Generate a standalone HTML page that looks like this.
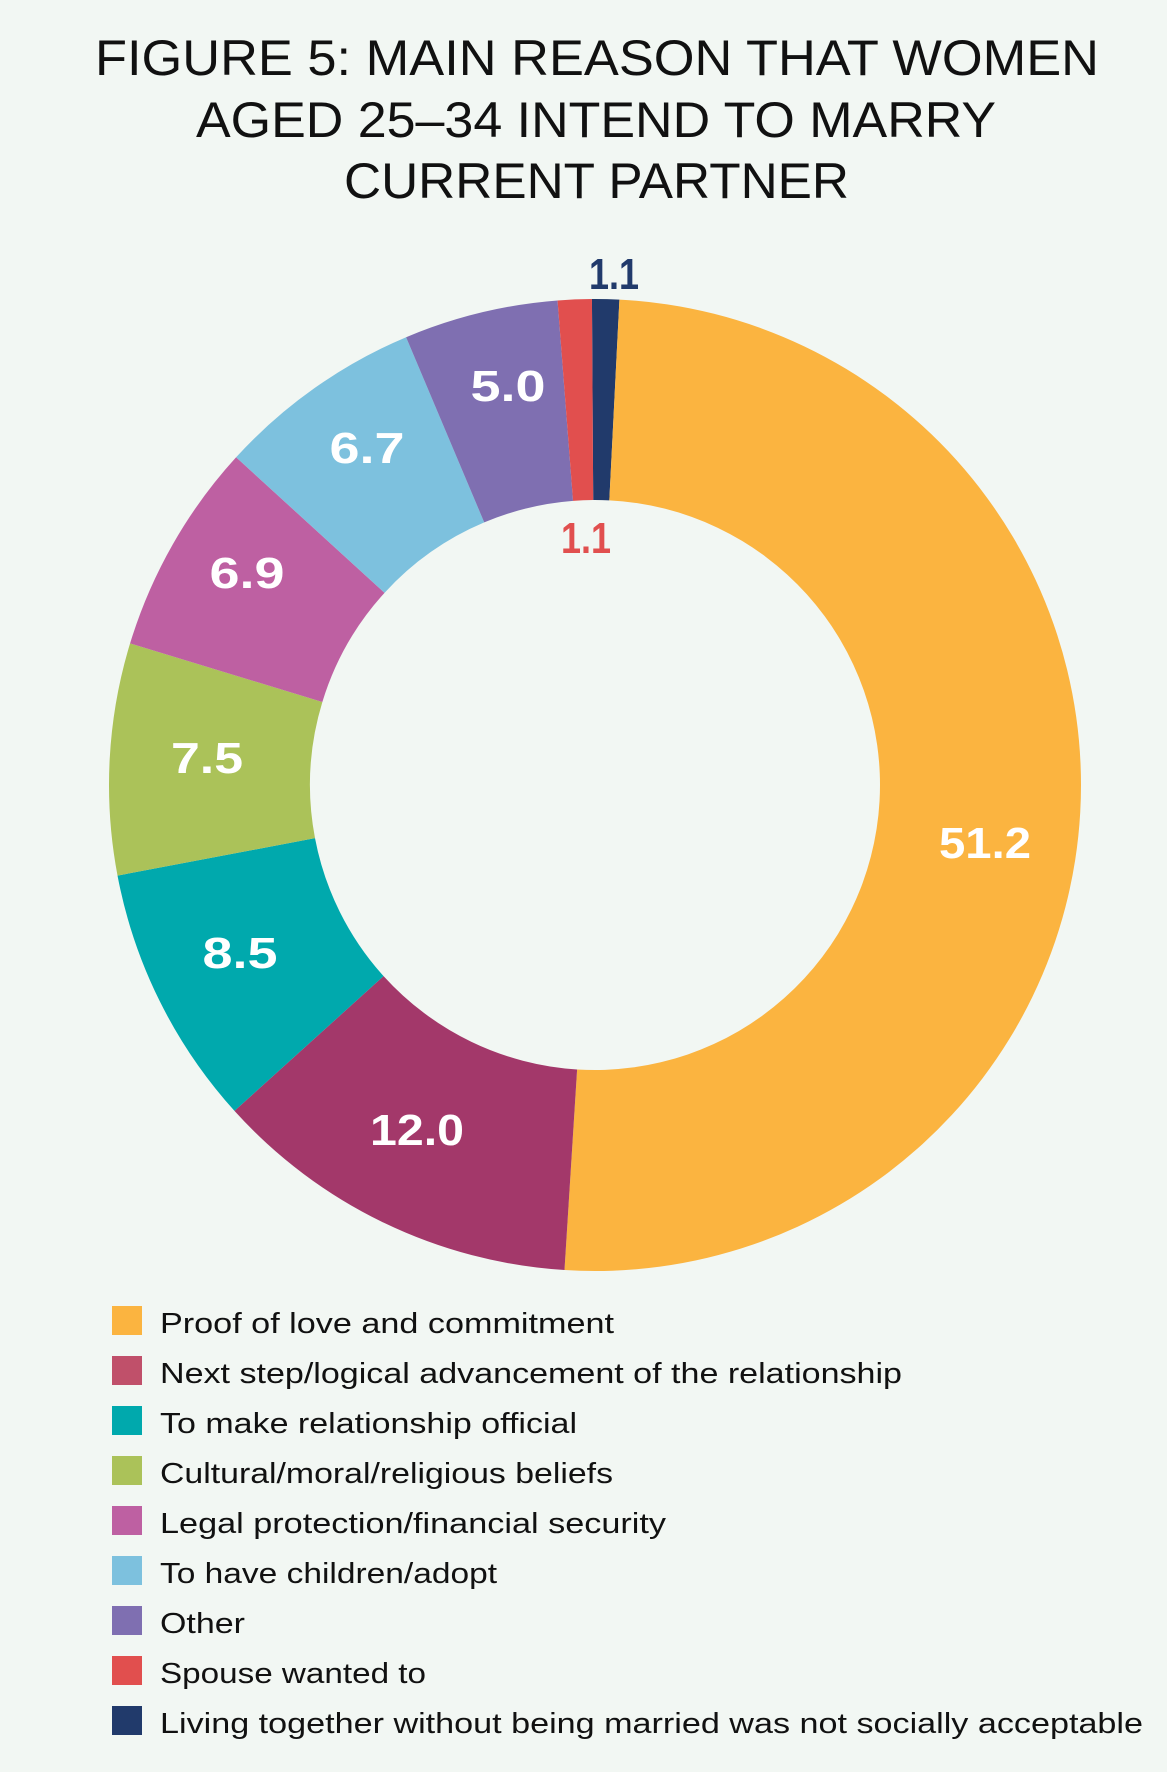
<!DOCTYPE html>
<html><head><meta charset="utf-8"><style>
html,body{margin:0;padding:0;background:#f2f7f3}
svg{display:block}
text{font-family:"Liberation Sans",sans-serif}
</style></head><body>
<svg id="s" width="1167" height="1772" viewBox="0 0 1167 1772" xmlns="http://www.w3.org/2000/svg">
<rect width="1167" height="1772" fill="#f2f7f3"/>
<g fill="#111" font-size="50">
<text x="95" y="75" textLength="1004" lengthAdjust="spacingAndGlyphs">FIGURE 5: MAIN REASON THAT WOMEN</text>
<text x="196" y="137" textLength="800" lengthAdjust="spacingAndGlyphs">AGED 25–34 INTEND TO MARRY</text>
<text x="344" y="198" textLength="505" lengthAdjust="spacingAndGlyphs">CURRENT PARTNER</text>
</g>
<g id="ring"></g>
<g font-weight="bold" font-size="44" fill="#fff" text-anchor="middle">
<text x="985" y="858" textLength="92" lengthAdjust="spacingAndGlyphs">51.2</text>
<text x="417" y="1145" textLength="94" lengthAdjust="spacingAndGlyphs">12.0</text>
<text x="240" y="968" textLength="75" lengthAdjust="spacingAndGlyphs">8.5</text>
<text x="207" y="773" textLength="72" lengthAdjust="spacingAndGlyphs">7.5</text>
<text x="247" y="588" textLength="75" lengthAdjust="spacingAndGlyphs">6.9</text>
<text x="367" y="463" textLength="75" lengthAdjust="spacingAndGlyphs">6.7</text>
<text x="508" y="401" textLength="75" lengthAdjust="spacingAndGlyphs">5.0</text>
<text x="586" y="553" fill="#e14f4e" textLength="50" lengthAdjust="spacingAndGlyphs">1.1</text>
<text x="614" y="289" fill="#213a6b" textLength="50" lengthAdjust="spacingAndGlyphs">1.1</text>
</g>
<g font-size="29" fill="#111">
<rect x="112" y="1306" width="30" height="29" fill="#fbb440"/><text x="160" y="1333" textLength="454" lengthAdjust="spacingAndGlyphs">Proof of love and commitment</text>
<rect x="112" y="1356" width="30" height="29" fill="#c0506a"/><text x="160" y="1383" textLength="742" lengthAdjust="spacingAndGlyphs">Next step/logical advancement of the relationship</text>
<rect x="112" y="1406" width="30" height="29" fill="#00a9ad"/><text x="160" y="1433" textLength="417" lengthAdjust="spacingAndGlyphs">To make relationship official</text>
<rect x="112" y="1456" width="30" height="29" fill="#abc259"/><text x="160" y="1483" textLength="453" lengthAdjust="spacingAndGlyphs">Cultural/moral/religious beliefs</text>
<rect x="112" y="1506" width="30" height="29" fill="#be60a2"/><text x="160" y="1533" textLength="506" lengthAdjust="spacingAndGlyphs">Legal protection/financial security</text>
<rect x="112" y="1556" width="30" height="29" fill="#7dc1de"/><text x="160" y="1583" textLength="337" lengthAdjust="spacingAndGlyphs">To have children/adopt</text>
<rect x="112" y="1606" width="30" height="29" fill="#7f6fb1"/><text x="160" y="1633" textLength="85" lengthAdjust="spacingAndGlyphs">Other</text>
<rect x="112" y="1656" width="30" height="29" fill="#e14f4e"/><text x="160" y="1683" textLength="266" lengthAdjust="spacingAndGlyphs">Spouse wanted to</text>
<rect x="112" y="1706" width="30" height="29" fill="#213a6b"/><text x="160" y="1733" textLength="983" lengthAdjust="spacingAndGlyphs">Living together without being married was not socially acceptable</text>
</g>
</svg>
<script>
var cx=595,cy=785,R=486,r=285;
var k=48.9/47.7;
var d=[[0.9,"#213a6b"],[50.2,"#fbb440"],[12.0*k,"#a3386a"],[8.5*k,"#00a9ad"],[7.5*k,"#abc259"],[6.9*k,"#be60a2"],[6.7*k,"#7dc1de"],[5.0*k,"#7f6fb1"],[1.1*k,"#e14f4e"]];
var g=document.getElementById("ring"),a=-0.1,ns="http://www.w3.org/2000/svg";
function p(rad,t){var an=t/100*2*Math.PI;return [cx+rad*Math.sin(an),cy-rad*Math.cos(an)];}
d.forEach(function(s){var b=a+s[0];var l=s[0]>50?1:0;
var p1=p(R,a),p2=p(R,b),p3=p(r,b),p4=p(r,a);
var e=document.createElementNS(ns,"path");
e.setAttribute("d","M"+p1+"A"+R+","+R+" 0 "+l+" 1 "+p2+"L"+p3+"A"+r+","+r+" 0 "+l+" 0 "+p4+"Z");
e.setAttribute("fill",s[1]);g.appendChild(e);a=b;});
</script>
</body></html>
